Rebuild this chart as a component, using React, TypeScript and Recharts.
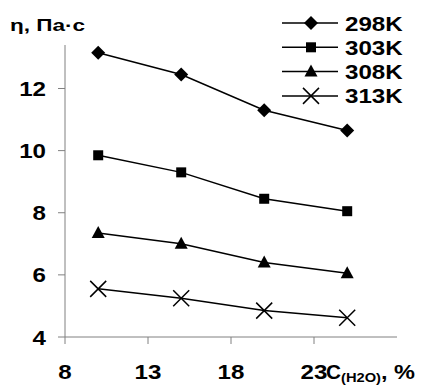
import { LineChart, Line, XAxis, YAxis } from "recharts";

const concentrations = [10, 15, 20, 25];
const visc298 = [13.15, 12.45, 11.3, 10.65];
const visc303 = [9.85, 9.3, 8.45, 8.05];
const visc308 = [7.35, 7.0, 6.4, 6.05];
const visc313 = [5.55, 5.25, 4.85, 4.62];
const xTicks = [8, 13, 18, 23];
const yTicks = [4, 6, 8, 10, 12];
const seriesNames = ["298K", "303K", "308K", "313K"];

const data = concentrations.map((c, i) => ({
  c,
  t298: visc298[i],
  t303: visc303[i],
  t308: visc308[i],
  t313: visc313[i],
}));

const FONT = "'Liberation Sans', Arial, sans-serif";
// the reference glyphs are a bit wider than Arial, so stretch them a little
const STRETCH = 1.15;
const charW = (s: string) =>
  s.split("").reduce((w, ch) => w + (/[0-9]/.test(ch) ? 0.556 : ch === "K" ? 0.722 : 0.6), 0);

type Shape = "diamond" | "square" | "triangle" | "cross";

const Marker = ({ shape, cx, cy }: { shape: Shape; cx: number; cy: number }) => {
  if (shape === "diamond")
    return <path d={`M${cx},${cy - 7}L${cx + 7},${cy}L${cx},${cy + 7}L${cx - 7},${cy}Z`} fill="#000" />;
  if (shape === "square")
    return <rect x={cx - 5} y={cy - 5} width={10} height={10} fill="#000" />;
  if (shape === "triangle")
    return <path d={`M${cx},${cy - 7}L${cx + 6.5},${cy + 5}L${cx - 6.5},${cy + 5}Z`} fill="#000" />;
  return (
    <path
      d={`M${cx - 8},${cy - 8}L${cx + 8},${cy + 8}M${cx - 8},${cy + 8}L${cx + 8},${cy - 8}`}
      stroke="#000"
      strokeWidth={1.5}
    />
  );
};

const dotFor = (shape: Shape) => (props: any) => {
  const { cx, cy, index } = props;
  return <Marker key={`${shape}-${index}`} shape={shape} cx={cx} cy={cy} />;
};

const shapes: Shape[] = ["diamond", "square", "triangle", "cross"];

const ChartLegend = () => (
  <svg width={160} height={110} style={{ position: "absolute", left: 270, top: 5 }}>
    {seriesNames.map((name, i) => {
      const y = 18 + i * 24.3;
      const fs = 21;
      return (
        <g key={name}>
          <line x1={12} y1={y} x2={68} y2={y} stroke="#000" strokeWidth={1.5} />
          <Marker shape={shapes[i]} cx={41} cy={y} />
          <text
            x={75}
            y={y + 7.5}
            fontFamily={FONT}
            fontWeight="bold"
            fontSize={fs}
            fill="#000"
            textLength={charW(name) * fs * STRETCH}
            lengthAdjust="spacingAndGlyphs"
          >
            {name}
          </text>
        </g>
      );
    })}
  </svg>
);

const XTick = (props: any) => {
  const { x, y, payload } = props;
  const fs = 21;
  const label = String(payload.value);
  const common = { fontFamily: FONT, fontWeight: "bold" as const, fill: "#000" };
  return (
    <g>
      <text
        x={x}
        y={y + 33}
        textAnchor="middle"
        fontSize={fs}
        textLength={charW(label) * fs * STRETCH}
        lengthAdjust="spacingAndGlyphs"
        {...common}
      >
        {label}
      </text>
      {payload.value === 23 && (
        <>
          <text x={x + 12} y={y + 33} fontSize={fs} textLength={15} lengthAdjust="spacingAndGlyphs" {...common}>
            C
          </text>
          <text x={x + 27} y={y + 36} fontSize={13} textLength={40} lengthAdjust="spacingAndGlyphs" {...common}>
            (H2O)
          </text>
          <text x={x + 67} y={y + 33} fontSize={fs} textLength={34} lengthAdjust="spacingAndGlyphs" {...common}>
            , %
          </text>
        </>
      )}
    </g>
  );
};

const YTick = (props: any) => {
  const { x, y, payload } = props;
  const fs = 21;
  const label = String(payload.value);
  return (
    <text
      x={x}
      y={y + 7.5}
      textAnchor="end"
      fontFamily={FONT}
      fontWeight="bold"
      fontSize={fs}
      fill="#000"
      textLength={charW(label) * fs * STRETCH}
      lengthAdjust="spacingAndGlyphs"
    >
      {label}
    </text>
  );
};

export default function App() {
  return (
    <div style={{ position: "absolute", left: 0, top: 0, width: 431, height: 385 }}>
      <LineChart
        width={431}
        height={385}
        data={data}
        margin={{ top: 45, right: 34, bottom: 0, left: 15 }}
      >
        <XAxis
          dataKey="c"
          type="number"
          domain={[8, 28]}
          ticks={xTicks}
          stroke="#808080"
          tickSize={7}
          tick={<XTick />}
          height={48}
        />
        <YAxis
          type="number"
          domain={[4, 13.4]}
          allowDataOverflow
          ticks={yTicks}
          stroke="#808080"
          tickSize={7}
          tickMargin={12}
          tick={<YTick />}
          width={50}
        />
        <Line dataKey="t298" stroke="#000" strokeWidth={1.5} dot={dotFor("diamond")} isAnimationActive={false} />
        <Line dataKey="t303" stroke="#000" strokeWidth={1.5} dot={dotFor("square")} isAnimationActive={false} />
        <Line dataKey="t308" stroke="#000" strokeWidth={1.5} dot={dotFor("triangle")} isAnimationActive={false} />
        <Line dataKey="t313" stroke="#000" strokeWidth={1.5} dot={dotFor("cross")} isAnimationActive={false} />
      </LineChart>
      <ChartLegend />
      <svg width={100} height={40} style={{ position: "absolute", left: 0, top: 0 }}>
        <text
          x={10}
          y={31}
          fontFamily={FONT}
          fontWeight="bold"
          fontSize={16}
          fill="#000"
          textLength={75}
          lengthAdjust="spacingAndGlyphs"
        >
          η, Па·с
        </text>
      </svg>
    </div>
  );
}
